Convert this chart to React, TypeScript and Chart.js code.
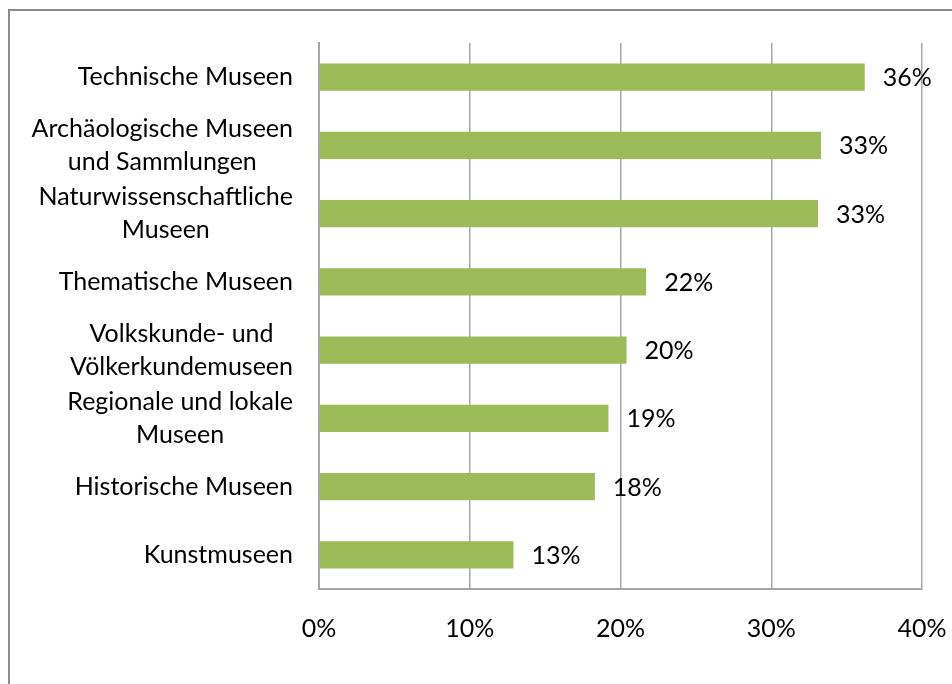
import React, { useEffect, useRef } from "react";
import { Chart, registerables } from "chart.js";

Chart.register(...registerables);

const categories: string[][] = [
  ["Technische Museen"],
  ["Archäologische Museen", "und Sammlungen"],
  ["Naturwissenschaftliche", "Museen"],
  ["Thematische Museen"],
  ["Volkskunde- und", "Völkerkundemuseen"],
  ["Regionale und lokale", "Museen"],
  ["Historische Museen"],
  ["Kunstmuseen"],
];
const values: number[] = [36.2, 33.3, 33.1, 21.7, 20.4, 19.2, 18.3, 12.9];
const valueLabels: string[] = ["36%", "33%", "33%", "22%", "20%", "19%", "18%", "13%"];
const xTicks: number[] = [0, 10, 20, 30, 40];

const FONT = "Lato, 'Open Sans', sans-serif";
const FONT_SIZE = 25;

export default function App() {
  const ref = useRef<HTMLCanvasElement | null>(null);

  useEffect(() => {
    document.documentElement.style.overflow = "hidden";
    document.body.style.overflow = "hidden";
    const canvas = ref.current;
    if (!canvas) return;

    const labelPlugin = {
      id: "customLabels",
      afterDraw(chart: any) {
        const ctx = chart.ctx;
        const yScale = chart.scales.y;
        ctx.save();
        ctx.font = `${FONT_SIZE}px ${FONT}`;
        ctx.fillStyle = "#000";
        ctx.textBaseline = "middle";
        ctx.textAlign = "center";
        const right = yScale.right - 26;
        const lh = 33;
        categories.forEach((lines, i) => {
          const y = yScale.getPixelForValue(i);
          const w = Math.max(...lines.map((l) => ctx.measureText(l).width));
          const cx = right - w / 2;
          const y0 = y - ((lines.length - 1) * lh) / 2;
          lines.forEach((l, j) => ctx.fillText(l, cx, y0 + j * lh));
        });
        const meta = chart.getDatasetMeta(0);
        ctx.textAlign = "left";
        meta.data.forEach((bar: any, i: number) => {
          ctx.fillText(valueLabels[i], bar.x + 18, bar.y + 1);
        });
        ctx.restore();
      },
    };

    const chart = new Chart(canvas, {
      type: "bar",
      data: {
        labels: categories,
        datasets: [
          {
            data: values,
            backgroundColor: "#9BBB59",
            borderWidth: 0,
            barPercentage: 0.4,
            categoryPercentage: 1,
          },
        ],
      },
      options: {
        indexAxis: "y",
        animation: false,
        responsive: false,
        maintainAspectRatio: false,
        devicePixelRatio: 1,
        layout: { padding: { top: 32, right: 30, bottom: 0, left: 0 } },
        plugins: {
          legend: { display: false },
          tooltip: { enabled: false },
        },
        scales: {
          x: {
            min: 0,
            max: 40,
            afterBuildTicks: (scale: any) => {
              scale.ticks = xTicks.map((v) => ({ value: v }));
            },
            afterFit: (scale: any) => {
              scale.height = 95;
              scale.paddingLeft = 0;
              scale.paddingRight = 0;
            },
            grid: {
              color: "#a6a6a6",
              lineWidth: 1.5,
              drawTicks: false,
            },
            border: { display: true, color: "#a6a6a6", width: 2 },
            ticks: {
              color: "#000",
              font: { family: FONT, size: FONT_SIZE },
              padding: 25,
              maxRotation: 0,
              callback: (v: any) => `${v}%`,
            },
          },
          y: {
            afterFit: (scale: any) => {
              scale.width = 309;
            },
            grid: { display: false, drawTicks: false },
            border: { display: true, color: "#a6a6a6", width: 2 },
            ticks: { display: false },
          },
        },
      },
      plugins: [labelPlugin],
    });
    return () => chart.destroy();
  }, []);

  return (
    <div
      style={{
        position: "absolute",
        left: 8,
        top: 9,
        width: 944,
        height: 675,
        borderLeft: "2px solid #8c8c8c",
        borderTop: "2px solid #8c8c8c",
        boxSizing: "border-box",
        background: "#fff",
      }}
    >
      <canvas ref={ref} width={942} height={673} style={{ display: "block" }} />
    </div>
  );
}
